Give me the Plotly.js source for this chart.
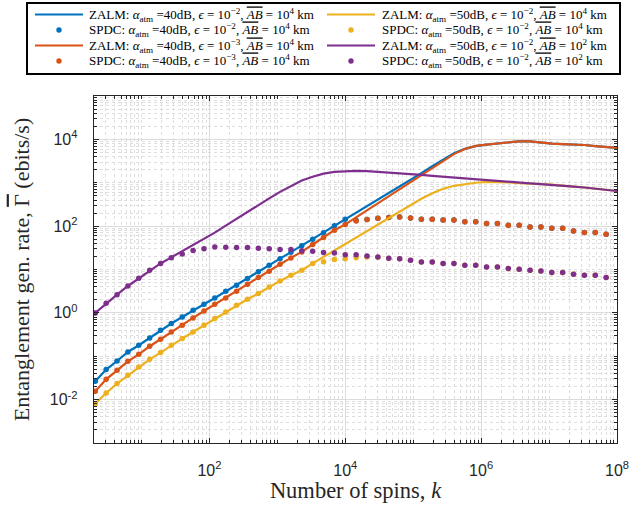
<!DOCTYPE html>
<html>
<head>
<meta charset="utf-8">
<script src="https://cdn.plot.ly/plotly-3.0.1.min.js"></script>
<style>html,body{margin:0;padding:0;background:#fff;}#chart{width:631px;height:517px;}</style>
</head>
<body>
<div id="chart"></div>
<script>
// Number of spins k (marker positions) and line end point
const kDots = [2.09, 3.02, 4.37, 6.31, 9.12, 13.2, 19.1, 27.5, 39.8, 57.5, 83.2, 120, 174, 251, 363, 525, 759, 1096, 1585, 2291, 3311, 4786, 6918, 1e4, 14454, 20893, 30200, 43652, 63096, 91201, 131826, 190546, 275423, 398107, 575440, 831764, 1.202e6, 1.738e6, 2.512e6, 3.631e6, 5.248e6, 7.586e6, 1.096e7, 1.585e7, 2.291e7, 3.311e7, 4.786e7, 6.918e7];
const kLine = kDots.concat([1e8]);

// log10 of the rate (ebits/s)
const zalm40e2Log = [-1.578, -1.308, -1.11, -0.902, -0.747, -0.579, -0.401, -0.246, -0.094, 0.061, 0.199, 0.344, 0.499, 0.637, 0.792, 0.95, 1.10, 1.25, 1.40, 1.55, 1.70, 1.85, 2.01, 2.16, 2.31, 2.45, 2.60, 2.75, 2.90, 3.06, 3.22, 3.38, 3.54, 3.68, 3.78, 3.845, 3.88, 3.91, 3.935, 3.955, 3.955, 3.92, 3.90, 3.89, 3.885, 3.87, 3.845, 3.82, 3.806];
const spdc40e2Log = [-1.578, -1.308, -1.11, -0.902, -0.747, -0.579, -0.401, -0.246, -0.094, 0.061, 0.199, 0.344, 0.499, 0.637, 0.792, 0.95, 1.10, 1.25, 1.40, 1.55, 1.70, 1.85, 2.01, 2.16, 2.13, 2.155, 2.18, 2.20, 2.21, 2.19, 2.16, 2.16, 2.14, 2.14, 2.10, 2.10, 2.06, 2.06, 2.02, 2.02, 1.98, 1.98, 1.95, 1.95, 1.89, 1.855, 1.855, 1.81];
const zalm40e3Log = [-1.809, -1.532, -1.324, -1.117, -0.955, -0.770, -0.609, -0.44, -0.286, -0.117, 0.044, 0.199, 0.344, 0.499, 0.661, 0.815, 0.961, 1.122, 1.268, 1.406, 1.577, 1.74, 1.907, 2.04, 2.20, 2.36, 2.52, 2.68, 2.84, 3.00, 3.16, 3.32, 3.50, 3.66, 3.78, 3.85, 3.88, 3.91, 3.935, 3.955, 3.955, 3.92, 3.90, 3.89, 3.885, 3.87, 3.845, 3.82, 3.806];
const spdc40e3Log = [-1.809, -1.532, -1.324, -1.117, -0.955, -0.770, -0.609, -0.44, -0.286, -0.117, 0.044, 0.199, 0.344, 0.499, 0.661, 0.815, 0.961, 1.122, 1.268, 1.406, 1.577, 1.74, 1.907, 2.04, 2.12, 2.155, 2.18, 2.20, 2.21, 2.19, 2.16, 2.16, 2.14, 2.14, 2.10, 2.10, 2.06, 2.06, 2.02, 2.02, 1.98, 1.98, 1.95, 1.95, 1.89, 1.855, 1.855, 1.81];
const zalm50e2Log = [-2.093, -1.848, -1.631, -1.44, -1.248, -1.07, -0.916, -0.747, -0.593, -0.44, -0.286, -0.131, 0.021, 0.176, 0.314, 0.446, 0.598, 0.737, 0.868, 0.984, 1.14, 1.29, 1.44, 1.59, 1.74, 1.89, 2.04, 2.19, 2.34, 2.49, 2.63, 2.76, 2.86, 2.93, 2.97, 3.00, 3.02, 3.02, 3.01, 2.99, 2.985, 2.97, 2.955, 2.94, 2.91, 2.89, 2.86, 2.83, 2.81];
const spdc50e2Log = [-2.093, -1.848, -1.631, -1.44, -1.248, -1.07, -0.916, -0.747, -0.593, -0.44, -0.286, -0.131, 0.021, 0.176, 0.314, 0.446, 0.598, 0.737, 0.868, 0.984, 1.14, 1.18, 1.23, 1.25, 1.27, 1.29, 1.28, 1.26, 1.25, 1.215, 1.175, 1.175, 1.14, 1.14, 1.10, 1.10, 1.06, 1.06, 1.023, 1.007, 0.984, 0.968, 0.93, 0.93, 0.891, 0.868, 0.868, 0.815];
const zalm50AB2Log = [0.0, 0.22, 0.42, 0.62, 0.80, 0.98, 1.14, 1.28, 1.42, 1.57, 1.71, 1.85, 2.01, 2.17, 2.32, 2.48, 2.64, 2.79, 2.93, 3.05, 3.14, 3.21, 3.25, 3.27, 3.275, 3.27, 3.255, 3.235, 3.215, 3.20, 3.18, 3.16, 3.14, 3.115, 3.09, 3.07, 3.05, 3.035, 3.02, 3.0, 2.985, 2.97, 2.955, 2.94, 2.91, 2.89, 2.86, 2.83, 2.81];
const spdc50AB2Log = [0.0, 0.22, 0.42, 0.62, 0.80, 0.98, 1.14, 1.27, 1.36, 1.44, 1.48, 1.52, 1.515, 1.51, 1.51, 1.49, 1.48, 1.46, 1.46, 1.43, 1.42, 1.39, 1.38, 1.34, 1.34, 1.31, 1.29, 1.26, 1.25, 1.215, 1.175, 1.175, 1.14, 1.14, 1.10, 1.10, 1.06, 1.06, 1.023, 1.007, 0.984, 0.968, 0.93, 0.93, 0.891, 0.868, 0.868, 0.815];

const ovAB = '<span style="text-decoration:overline"><i>AB</i></span>';
const seriesNames = [
  'ZALM: <i>α</i><sub>atm</sub> =40dB, <i>ϵ</i> = 10<sup>−2</sup>, ' + ovAB + ' = 10<sup>4</sup> km',
  'SPDC: <i>α</i><sub>atm</sub> =40dB, <i>ϵ</i> = 10<sup>−2</sup>, ' + ovAB + ' = 10<sup>4</sup> km',
  'ZALM: <i>α</i><sub>atm</sub> =40dB, <i>ϵ</i> = 10<sup>−3</sup>, ' + ovAB + ' = 10<sup>4</sup> km',
  'SPDC: <i>α</i><sub>atm</sub> =40dB, <i>ϵ</i> = 10<sup>−3</sup>, ' + ovAB + ' = 10<sup>4</sup> km',
  'ZALM: <i>α</i><sub>atm</sub> =50dB, <i>ϵ</i> = 10<sup>−2</sup>, ' + ovAB + ' = 10<sup>4</sup> km',
  'SPDC: <i>α</i><sub>atm</sub> =50dB, <i>ϵ</i> = 10<sup>−2</sup>, ' + ovAB + ' = 10<sup>4</sup> km',
  'ZALM: <i>α</i><sub>atm</sub> =50dB, <i>ϵ</i> = 10<sup>−2</sup>, ' + ovAB + ' = 10<sup>2</sup> km',
  'SPDC: <i>α</i><sub>atm</sub> =50dB, <i>ϵ</i> = 10<sup>−2</sup>, ' + ovAB + ' = 10<sup>2</sup> km'
];
const colors = ['#0072BD', '#D95319', '#EDB120', '#7E2F8E'];
const xTickVals = [1e2, 1e4, 1e6, 1e8];
const xTickText = ['10<sup>2</sup>', '10<sup>4</sup>', '10<sup>6</sup>', '10<sup>8</sup>'];
const yTickVals = [1e-2, 1, 1e2, 1e4];
const yTickText = ['10<sup>-2</sup>', '10<sup>0</sup>', '10<sup>2</sup>', '10<sup>4</sup>'];

const toLin = a => a.map(v => Math.pow(10, v));
const lineData = [zalm40e2Log, zalm40e3Log, zalm50e2Log, zalm50AB2Log];
const dotData = [spdc40e2Log, spdc40e3Log, spdc50e2Log, spdc50AB2Log];

const traces = [];
for (let i = 0; i < 4; i++) {
  traces.push({
    x: kLine, y: toLin(lineData[i]), type: 'scatter', mode: 'lines',
    name: seriesNames[2 * i], showlegend: false,
    line: {color: colors[i], width: 2.2}
  });
  traces.push({
    x: kDots, y: toLin(dotData[i]), type: 'scatter', mode: 'markers',
    name: seriesNames[2 * i + 1], showlegend: false,
    marker: {color: colors[i], size: 5.5}
  });
}

// ---- legend box drawn as shapes + annotations (pixel layout -> paper coords)
const M = {l: 94, r: 14, t: 96, b: 74}, W = 631, H = 517;
const pw = W - M.l - M.r, ph = H - M.t - M.b;
const px = x => (x - M.l) / pw;
const py = y => (H - M.b - y) / ph;
const shapes = [{type: 'rect', xref: 'paper', yref: 'paper', x0: px(27), x1: px(620), y0: py(3), y1: py(74),
                 line: {color: '#000000', width: 2}, fillcolor: '#ffffff', layer: 'above'}];
const annotations = [];
const rowY = [14.5, 30, 45.5, 61];
const cols = [{l0: 35, l1: 83, tx: 88}, {l0: 327, l1: 375, tx: 381}];
const legFont = {family: 'Liberation Serif, Times New Roman, serif', size: 13, color: '#000000'};
for (let i = 0; i < 4; i++) {
  const c = cols[Math.floor(i / 2)];
  const rLine = rowY[(i % 2) * 2], rDot = rowY[(i % 2) * 2 + 1];
  shapes.push({type: 'line', xref: 'paper', yref: 'paper', x0: px(c.l0), x1: px(c.l1), y0: py(rLine), y1: py(rLine),
               line: {color: colors[i], width: 2.2}, layer: 'above'});
  const cx = (c.l0 + c.l1) / 2;
  shapes.push({type: 'circle', xref: 'paper', yref: 'paper', x0: px(cx - 2.7), x1: px(cx + 2.7), y0: py(rDot + 2.7), y1: py(rDot - 2.7),
               line: {width: 0}, fillcolor: colors[i], layer: 'above'});
  annotations.push({xref: 'paper', yref: 'paper', x: px(c.tx), y: py(rLine), xanchor: 'left', yanchor: 'middle',
                    text: seriesNames[2 * i], showarrow: false, borderpad: 0, font: legFont});
  annotations.push({xref: 'paper', yref: 'paper', x: px(c.tx), y: py(rDot), xanchor: 'left', yanchor: 'middle',
                    text: seriesNames[2 * i + 1], showarrow: false, borderpad: 0, font: legFont});
}

const axisCommon = {
  type: 'log', showline: true, linecolor: '#262626', linewidth: 1.3,
  mirror: 'allticks', ticks: 'inside', ticklen: 5, tickwidth: 1, tickcolor: '#262626',
  tickmode: 'array', showgrid: true, gridcolor: '#dcdcdc', gridwidth: 1,
  zeroline: false, automargin: false,
  tickfont: {family: 'Liberation Sans, Arial, sans-serif', size: 16, color: '#262626'},
  minor: {dtick: 'D1', ticks: 'inside', ticklen: 3, tickcolor: '#262626', showgrid: true,
          griddash: 'dot', gridcolor: '#dedede', gridwidth: 1}
};

const layout = {
  width: W, height: H,
  margin: {l: M.l, r: M.r, t: M.t, b: M.b, autoexpand: false},
  paper_bgcolor: '#ffffff', plot_bgcolor: '#ffffff',
  showlegend: false,
  shapes: shapes, annotations: annotations,
  xaxis: Object.assign({}, axisCommon, {
    range: [Math.log10(2), 8], tickvals: xTickVals, ticktext: xTickText,
    ticklabelstandoff: 12,
    title: {text: 'Number of spins, <i>k</i>', standoff: 2,
            font: {family: 'Liberation Serif, Times New Roman, serif', size: 22.5, color: '#262626'}}
  }),
  yaxis: Object.assign({}, axisCommon, {
    range: [-3, 5], tickvals: yTickVals, ticktext: yTickText,
    ticklabelstandoff: 12,
    title: {text: 'Entanglement gen. rate, <span style="text-decoration:overline">Γ</span> (ebits/s)', standoff: 14,
            font: {family: 'Liberation Serif, Times New Roman, serif', size: 22, color: '#262626'}}
  })
};

Plotly.newPlot('chart', traces, layout, {displayModeBar: false, staticPlot: true});
</script>
</body>
</html>
